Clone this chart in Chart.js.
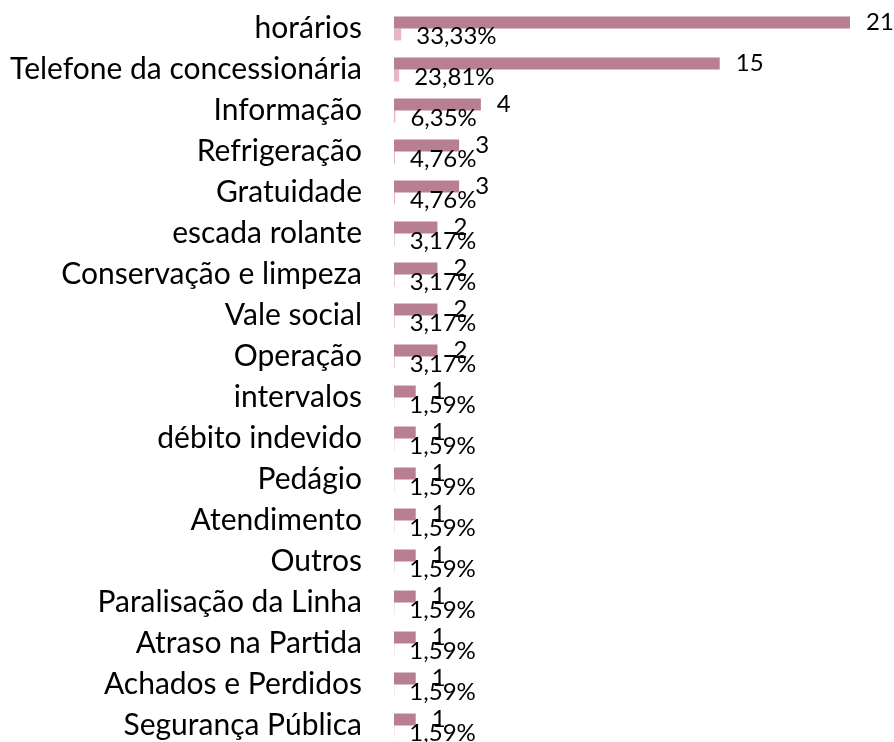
<!DOCTYPE html>
<html>
<head>
<meta charset="utf-8">
<script src="https://cdn.jsdelivr.net/npm/chart.js@4.4.1/dist/chart.umd.min.js"></script>
<style>
  html, body { margin: 0; padding: 0; background: #fff; overflow: hidden; }
  #wrap { width: 894px; height: 746px; }
</style>
</head>
<body>
<div id="wrap"><canvas id="chart"></canvas></div>
<script>
const categories = [
  "horários", "Telefone da concessionária", "Informação", "Refrigeração",
  "Gratuidade", "escada rolante", "Conservação e limpeza", "Vale social",
  "Operação", "intervalos", "débito indevido", "Pedágio", "Atendimento",
  "Outros", "Paralisação da Linha", "Atraso na Partida", "Achados e Perdidos",
  "Segurança Pública"
];
const counts = [21, 15, 4, 3, 3, 2, 2, 2, 2, 1, 1, 1, 1, 1, 1, 1, 1, 1];
const shares = [0.3333, 0.2381, 0.0635, 0.0476, 0.0476, 0.0317, 0.0317, 0.0317, 0.0317,
  0.0159, 0.0159, 0.0159, 0.0159, 0.0159, 0.0159, 0.0159, 0.0159, 0.0159];

const labelFont = "Lato";

// rótulos de valor ao lado das barras
const valueLabels = {
  id: "valueLabels",
  afterDatasetsDraw(chart) {
    const ctx = chart.ctx;
    ctx.save();
    ctx.fillStyle = "#000";
    ctx.textAlign = "left";
    ctx.textBaseline = "middle";
    ctx.font = "24px " + labelFont;
    chart.getDatasetMeta(0).data.forEach(function (bar, i) {
      ctx.fillText(String(counts[i]), bar.x + 16, bar.y);
    });
    chart.getDatasetMeta(1).data.forEach(function (bar, i) {
      ctx.fillText((shares[i] * 100).toFixed(2).replace(".", ",") + "%", bar.x + 15, bar.y + 2);
    });
    ctx.restore();
  }
};

new Chart(document.getElementById("chart"), {
  type: "bar",
  data: {
    labels: categories,
    datasets: [
      { data: counts, backgroundColor: "#b77f90" },
      { data: shares, backgroundColor: "#e6b8c6" }
    ]
  },
  options: {
    indexAxis: "y",
    responsive: true,
    maintainAspectRatio: false,
    animation: false,
    categoryPercentage: 0.585,
    barPercentage: 1,
    layout: { padding: { top: 8, right: 44, bottom: 0, left: 0 } },
    plugins: { legend: { display: false }, tooltip: { enabled: false } },
    scales: {
      x: { display: false, min: 0, max: 21 },
      y: {
        grid: { display: false, drawTicks: false },
        border: { display: false },
        ticks: { padding: 32, color: "#000", font: { family: labelFont, size: 30 } },
        afterFit: function (scale) {
          scale.width = 394;
          scale.paddingTop = 0;
          scale.paddingBottom = 0;
        }
      }
    }
  },
  plugins: [valueLabels]
});
</script>
</body>
</html>
